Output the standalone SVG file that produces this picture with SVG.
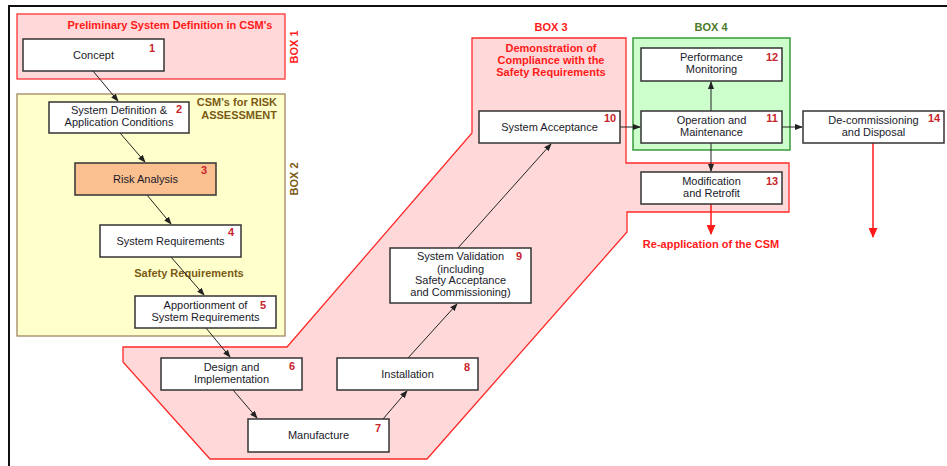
<svg xmlns="http://www.w3.org/2000/svg" width="947" height="466" viewBox="0 0 947 466">
<style>
text{font-family:"Liberation Sans",Arial,sans-serif;}
.nb{fill:#fff;stroke:#333;stroke-width:1.5;}
.t{font-size:11px;fill:#1a1a2a;text-anchor:middle;}
.n{font-size:11px;font-weight:bold;fill:#c8242b;text-anchor:middle;}
.red{font-size:11px;font-weight:bold;fill:#ff1a1a;text-anchor:middle;}
.brn{font-size:11px;font-weight:bold;fill:#7a5a14;}
.grn{font-size:11px;font-weight:bold;fill:#4a7a28;text-anchor:middle;}
.c{stroke:#222;stroke-width:1;fill:none;marker-end:url(#ah);}
.cr{stroke:#ff1a1a;stroke-width:1.5;fill:none;marker-end:url(#ahr);}
</style>
<defs>
<marker id="ah" markerWidth="8" markerHeight="6" refX="7" refY="3" orient="auto" markerUnits="userSpaceOnUse"><path d="M0,0 L8,3 L0,6 Z" fill="#222"/></marker>
<marker id="ahr" markerWidth="10" markerHeight="9" refX="9" refY="4.5" orient="auto" markerUnits="userSpaceOnUse"><path d="M0,0 L10,4.5 L0,9 Z" fill="#ff1a1a"/></marker>
</defs>
<rect x="0" y="0" width="947" height="466" fill="#fff"/>
<path d="M9,467 L9,6 L947,6" fill="none" stroke="#111" stroke-width="2"/>

<g id="box1">
<rect x="17" y="14" width="268" height="65" fill="#ffd9d9" stroke="#ff3333" stroke-width="1.3"/>
<text class="red" x="170" y="29">Preliminary System Definition in CSM's</text>
<text class="red" transform="translate(298,47) rotate(-90)">BOX 1</text>
</g>
<g id="box2">
<rect x="17" y="94" width="268" height="242" fill="#ffffcc" stroke="#a08660" stroke-width="1.3"/>
<text class="brn" x="277" y="106" text-anchor="end">CSM's for RISK</text>
<text class="brn" x="277" y="119" text-anchor="end">ASSESSMENT</text>
<text class="brn" transform="translate(298,179) rotate(-90)" text-anchor="middle">BOX 2</text>
<text class="brn" x="189" y="277" text-anchor="middle">Safety Requirements</text>
</g>
<g id="box3">
<path d="M472,38 L626,38 L626,163 L789,163 L789,212 L627,212 L627,232 L427,459 L210,459 L123,362 L123,347 L287,347 L472,133 Z" fill="#ffd9d9" stroke="#ff2a2a" stroke-width="1.3"/>
<text class="red" x="551" y="31">BOX 3</text>
<text class="red" x="551" y="52">Demonstration of</text>
<text class="red" x="551" y="64">Compliance with the</text>
<text class="red" x="551" y="76">Safety Requirements</text>
</g>
<g id="box4">
<rect x="633" y="38" width="157" height="112" fill="#ccffcc" stroke="#3a9a3a" stroke-width="1.5"/>
<text class="grn" x="711" y="31">BOX 4</text>
</g>

<g id="connectors">
<line class="c" x1="93" y1="71" x2="118" y2="101"/>
<line class="c" x1="120" y1="133" x2="145" y2="162"/>
<line class="c" x1="147" y1="195" x2="171" y2="224"/>
<line class="c" x1="171" y1="257" x2="204" y2="295"/>
<line class="c" x1="206" y1="328" x2="230" y2="357"/>
<line class="c" x1="233" y1="390" x2="257" y2="418"/>
<line class="c" x1="383" y1="419" x2="407" y2="391"/>
<line class="c" x1="408" y1="358" x2="457" y2="304"/>
<line class="c" x1="458" y1="248" x2="551" y2="144"/>
<line class="c" x1="620" y1="127" x2="640" y2="127"/>
<line class="c" x1="711" y1="111" x2="711" y2="82"/>
<line class="c" x1="711" y1="143" x2="711" y2="171"/>
<line class="c" x1="782" y1="127" x2="802" y2="127"/>
<line class="cr" x1="711" y1="204" x2="711" y2="234"/>
<line class="cr" x1="873" y1="143" x2="873" y2="237"/>
</g>
<text class="red" x="711" y="248">Re-application of the CSM</text>

<g id="n1"><rect class="nb" x="23" y="39" width="141" height="32"/><text class="t" x="93.5" y="59">Concept</text><text class="n" x="152" y="52">1</text></g>
<g id="n2"><rect class="nb" x="49" y="102" width="140" height="31"/><text class="t" x="119" y="114">System Definition &amp;</text><text class="t" x="119" y="126">Application Conditions</text><text class="n" x="179" y="113">2</text></g>
<g id="n3"><rect x="75" y="163" width="141" height="32" fill="#fac090" stroke="#333" stroke-width="1.5"/><text class="t" x="145.5" y="183">Risk Analysis</text><text class="n" x="204" y="174">3</text></g>
<g id="n4"><rect class="nb" x="100" y="225" width="141" height="32"/><text class="t" x="170.5" y="245">System Requirements</text><text class="n" x="231" y="236">4</text></g>
<g id="n5"><rect class="nb" x="135" y="296" width="141" height="32"/><text class="t" x="205.5" y="309">Apportionment of</text><text class="t" x="205.5" y="321">System Requirements</text><text class="n" x="263" y="309">5</text></g>
<g id="n6"><rect class="nb" x="161" y="358" width="141" height="32"/><text class="t" x="231.5" y="371">Design and</text><text class="t" x="231.5" y="383">Implementation</text><text class="n" x="292" y="370">6</text></g>
<g id="n7"><rect class="nb" x="248" y="419" width="141" height="33"/><text class="t" x="318.5" y="439">Manufacture</text><text class="n" x="378" y="432">7</text></g>
<g id="n8"><rect class="nb" x="337" y="358" width="141" height="32"/><text class="t" x="407.5" y="378">Installation</text><text class="n" x="467" y="371">8</text></g>
<g id="n9"><rect class="nb" x="390" y="248" width="141" height="55"/><text class="t" x="460.5" y="260">System Validation</text><text class="t" x="460.5" y="273">(including</text><text class="t" x="460.5" y="284">Safety Acceptance</text><text class="t" x="460.5" y="296">and Commissioning)</text><text class="n" x="519" y="260">9</text></g>
<g id="n10"><rect class="nb" x="479" y="111" width="141" height="32"/><text class="t" x="549.5" y="131">System Acceptance</text><text class="n" x="610" y="122">10</text></g>
<g id="n11"><rect class="nb" x="641" y="111" width="141" height="32"/><text class="t" x="711.5" y="124">Operation and</text><text class="t" x="711.5" y="136">Maintenance</text><text class="n" x="772" y="122">11</text></g>
<g id="n12"><rect class="nb" x="641" y="48" width="141" height="33"/><text class="t" x="711.5" y="61">Performance</text><text class="t" x="711.5" y="73">Monitoring</text><text class="n" x="772" y="61">12</text></g>
<g id="n13"><rect class="nb" x="641" y="172" width="141" height="32"/><text class="t" x="711.5" y="185">Modification</text><text class="t" x="711.5" y="197">and Retrofit</text><text class="n" x="772" y="185">13</text></g>
<g id="n14"><rect class="nb" x="803" y="111" width="141" height="32"/><text class="t" x="873.5" y="124">De-commissioning</text><text class="t" x="873.5" y="136">and Disposal</text><text class="n" x="934" y="122">14</text></g>
</svg>
